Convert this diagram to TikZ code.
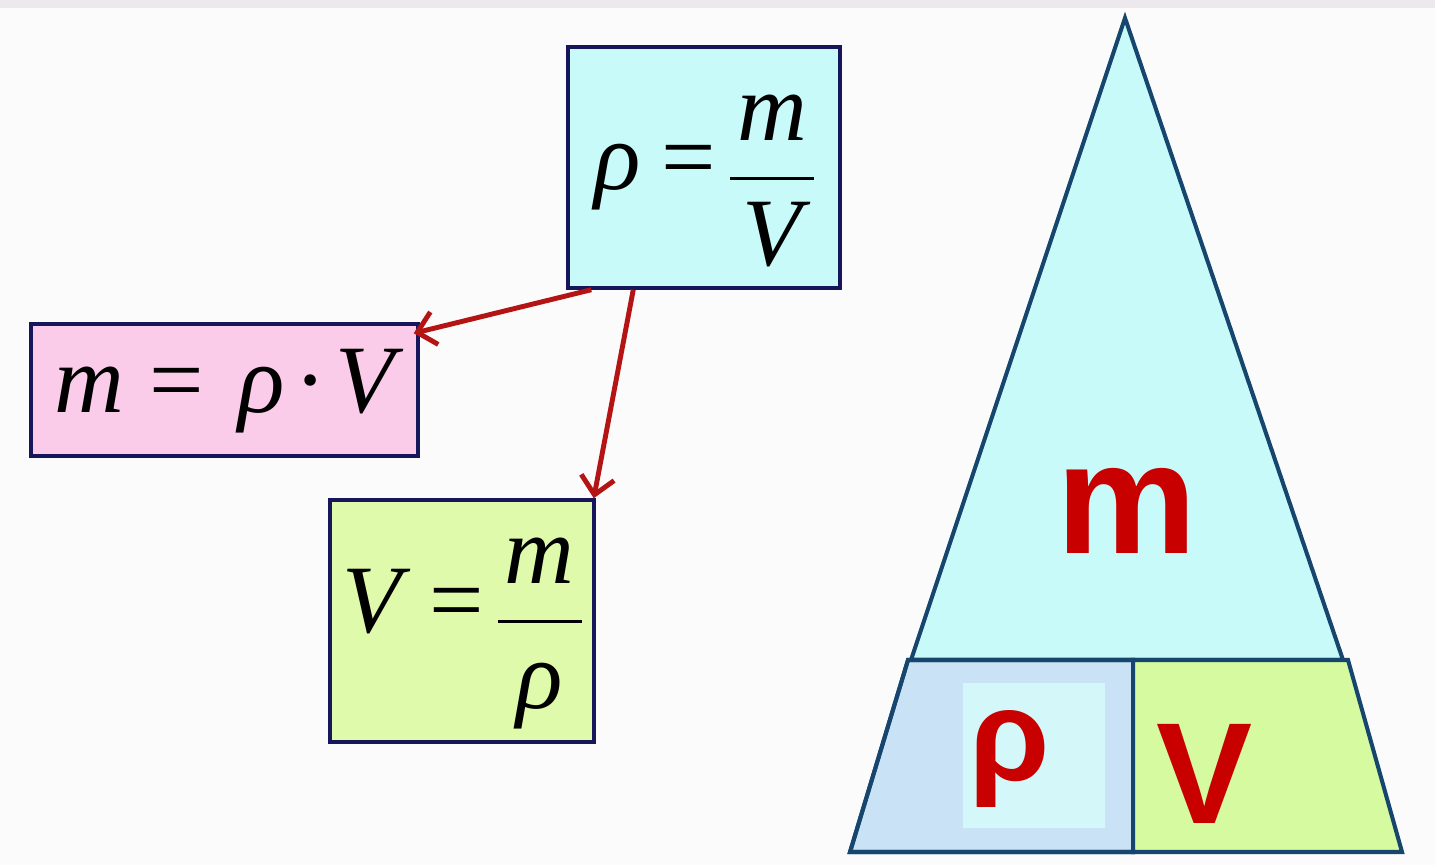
\documentclass[tikz,border=0pt]{standalone}
\usepackage{fontspec}
\setmainfont{Liberation Serif}
\newfontfamily\sansb{Liberation Sans}
\usetikzlibrary{arrows.meta,calc}
\definecolor{bgc}{RGB}{251,251,252}
\definecolor{topstrip}{RGB}{236,232,238}
\definecolor{cyanf}{RGB}{200,250,250}
\definecolor{pinkf}{RGB}{250,204,234}
\definecolor{greenf}{RGB}{222,250,170}
\definecolor{boxline}{RGB}{22,22,90}
\definecolor{triline}{RGB}{22,70,110}
\definecolor{blueL}{RGB}{202,226,246}
\definecolor{cyanin}{RGB}{212,248,250}
\definecolor{greenT}{RGB}{214,250,160}
\definecolor{redt}{RGB}{200,0,0}
\definecolor{arrc}{RGB}{180,20,20}
\newcommand{\myfr}[2]{{\renewcommand\arraystretch{1.12}\setlength\arrayrulewidth{2.1pt}%
  \begin{tabular}{@{\hspace{4pt}}c@{\hspace{4pt}}}#1\\\hline #2\end{tabular}}}
\tikzset{
  fbox/.style={draw=boxline, line width=2pt, inner sep=0pt, font=\fontsize{55}{62}\selectfont\itshape},
  arr/.style={draw=arrc, line width=2.8pt, -{Straight Barb[length=10pt,width=19pt,line width=2.8pt]}},
  tri/.style={draw=triline, line width=2.3pt, line join=miter},
  big/.style={text=redt, font=\sansb\bfseries\fontsize{90}{100}\selectfont, inner sep=0pt, anchor=base}
}
\begin{document}
\begin{tikzpicture}[x=0.02cm,y=-0.02cm]
\useasboundingbox (0,0) rectangle (1435,865);
\fill[bgc] (0,0) rectangle (1435,865);
\fill[topstrip] (0,0) rectangle (1435,8);

% formula boxes
\node[fbox, fill=cyanf, minimum width=5.44cm, minimum height=4.82cm] (top) at (704,167.5)
  {\raisebox{-12.5pt}[0pt][0pt]{ρ\hspace{12pt}{\upshape =}\hspace{8pt}\myfr{m}{V}}};
\node[fbox, fill=pinkf, minimum width=7.74cm, minimum height=2.64cm] (pink) at (224.5,390)
  {\raisebox{-13pt}[0pt][0pt]{m\hspace{14pt}{\upshape =}\hspace{20pt}ρ\hspace{5pt}{\upshape ·}\hspace{5pt}V}};
\node[fbox, fill=greenf, minimum width=5.28cm, minimum height=4.84cm] (green) at (462,621)
  {\raisebox{-6.5pt}[0pt][0pt]{V\hspace{16pt}{\upshape =}\hspace{8pt}\myfr{m}{ρ}}};

% arrows
\draw[arr] ([xshift=0.5cm]top.south west) -- ([xshift=-0.12cm,yshift=-0.22cm]pink.north east);
\draw[arr] ([xshift=1.34cm]top.south west) -- ([xshift=-0.04cm]green.north east);

% triangle
\filldraw[tri, fill=cyanf] (1125,18) -- (911,660) -- (1343,660) -- cycle;
\filldraw[tri, fill=blueL] (908,660) -- (1133,660) -- (1133,852) -- (850,852) -- cycle;
\fill[cyanin] (963,683) rectangle (1105,828);
\draw[tri] (908,660) -- (1133,660) -- (1133,852) -- (850,852) -- cycle;
\filldraw[tri, fill=greenT] (1133,660) -- (1348,660) -- (1402,852) -- (1133,852) -- cycle;

\node[big] (lm) at (1127,553) {m};
\node[big, font=\sansb\bfseries\fontsize{74}{80}\selectfont] (lrho) at (1010,780) {ρ};
\node[big, font=\sansb\bfseries\fontsize{82}{90}\selectfont] (lV) at (1205,823) {V};
\end{tikzpicture}
\end{document}
